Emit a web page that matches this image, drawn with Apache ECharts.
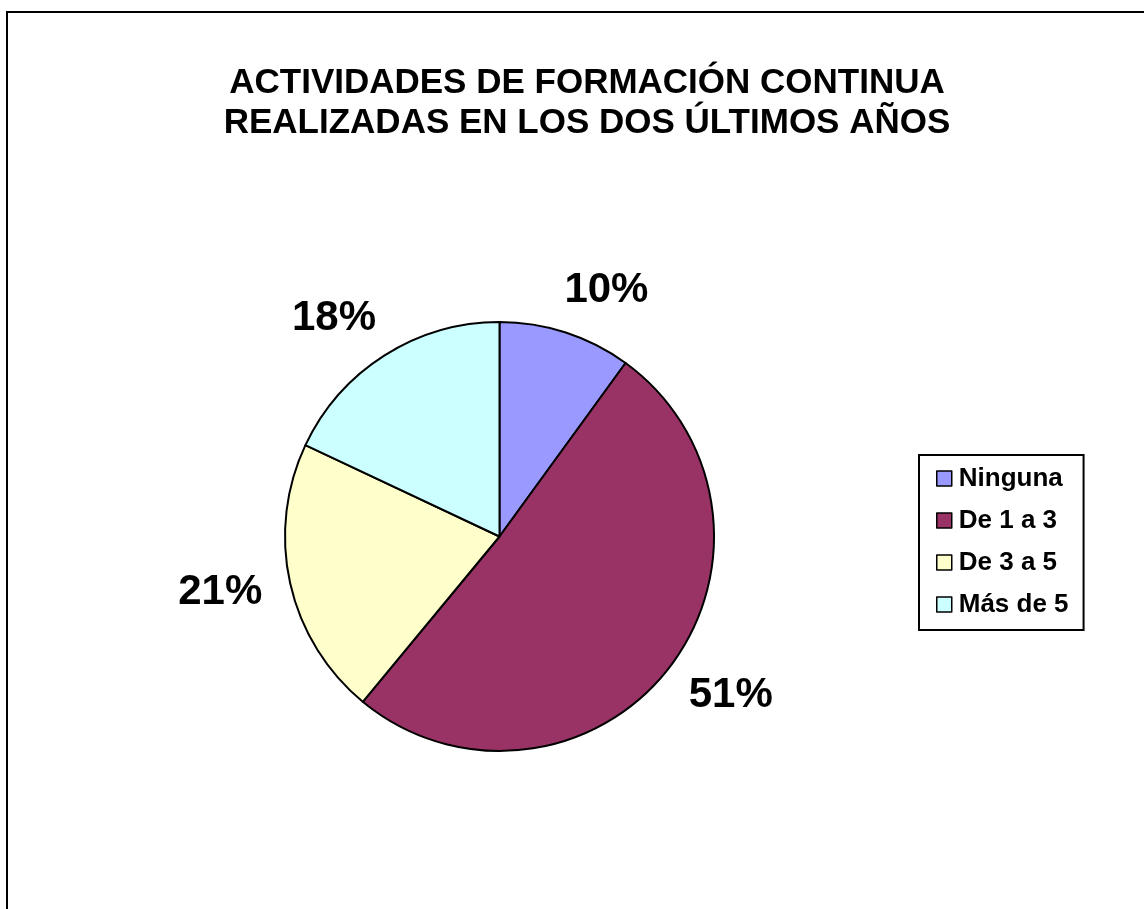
<!DOCTYPE html>
<html>
<head>
<meta charset="utf-8">
<script src="https://cdn.jsdelivr.net/npm/echarts@6/dist/echarts.min.js"></script>
<style>
  html, body { margin: 0; padding: 0; background: #fff; }
  #chart { width: 1144px; height: 909px; }
</style>
</head>
<body>
<div id="chart"></div>
<script>
// datos del gráfico
const categories = ["Ninguna", "De 1 a 3", "De 3 a 5", "Más de 5"];
const values = [10, 51, 21, 18];
const colors = ["#9999FF", "#993366", "#FFFFCC", "#CCFFFF"];
const titleLines = ["ACTIVIDADES DE FORMACIÓN CONTINUA", "REALIZADAS EN LOS DOS ÚLTIMOS AÑOS"];

const FONT = "'Liberation Sans', Arial, sans-serif";

const pieData = categories.map((name, i) => ({
  name: name,
  value: values[i],
  itemStyle: { color: colors[i] },
}));

const chart = echarts.init(document.getElementById("chart"));

const option = {
  backgroundColor: "#ffffff",
  animation: false,
  title: {
    text: titleLines.join("\n"),
    left: 582,
    top: 58,
    textAlign: "center",
    textStyle: {
      fontFamily: FONT,
      fontWeight: "bold",
      fontSize: 35,
      lineHeight: 40,
      color: "#000",
    },
  },
  legend: {
    orient: "vertical",
    left: 919,
    top: 455,
    padding: [10, 15, 12, 17],
    borderColor: "#000",
    borderWidth: 2,
    itemWidth: 15,
    itemHeight: 15,
    itemGap: 15,
    icon: "rect",
    itemStyle: { borderColor: "#000", borderWidth: 1.5 },
    textStyle: {
      fontFamily: FONT,
      fontWeight: "bold",
      fontSize: 26,
      lineHeight: 27,
      padding: [0, 0, 0, 2],
      color: "#000",
    },
    data: categories,
  },
  graphic: [
    {
      type: "rect",
      silent: true,
      shape: { x: 7, y: 12, width: 1300, height: 1000 },
      style: { fill: "none", stroke: "#000", lineWidth: 2 },
    },
  ],
  series: [
    {
      type: "pie",
      center: [499.5, 536.5],
      radius: [0, 214.5],
      startAngle: 90,
      clockwise: true,
      avoidLabelOverlap: false,
      itemStyle: { borderColor: "#000", borderWidth: 2 },
      label: {
        show: true,
        position: "outside",
        formatter: "{d}%",
        distanceToLabelLine: -15,
        fontFamily: FONT,
        fontWeight: "bold",
        fontSize: 42,
        color: "#000",
      },
      labelLine: {
        show: false,
        length: 44,
        length2: 0,
      },
      emphasis: { disabled: true },
      data: pieData,
    },
  ],
};

chart.setOption(option);
</script>
</body>
</html>
